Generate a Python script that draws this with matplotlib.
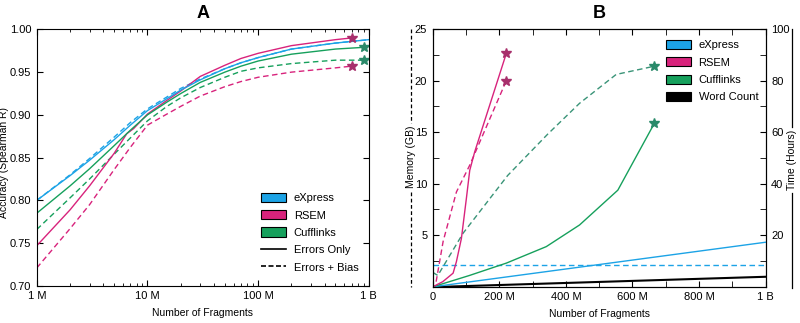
import numpy as np
import matplotlib.pyplot as plt
from matplotlib.patches import Patch
from matplotlib.lines import Line2D
from matplotlib.ticker import FixedLocator, NullFormatter

plt.rcParams['font.family'] = ['Liberation Sans', 'DejaVu Sans']
plt.rcParams['font.size'] = 8

# colours
c_exp = '#1ca3e6'
c_rsem = '#d8237c'
c_cuff = '#16a05c'
c_cuff_mem = '#3a9478'
star_rsem = '#a8306c'
star_cuff = '#2a8a6a'

# ---- panel A: accuracy vs fragments (millions) ----
xa = [1, 2, 3, 5, 7, 10, 15, 20, 30, 50, 70, 100, 200, 500, 1000]
exp_err = [0.800, 0.829, 0.847, 0.871, 0.888, 0.905, 0.919, 0.929, 0.941, 0.954, 0.961, 0.967, 0.977, 0.984, 0.988]
exp_bias = [0.800, 0.830, 0.849, 0.874, 0.891, 0.907, 0.921, 0.931, 0.942, 0.954, 0.961, 0.967, 0.977, 0.984, 0.988]

xa_rsem_err = [1, 2, 3, 5, 6.5, 7.5, 10, 15, 20, 30, 50, 70, 100, 200, 500, 700]
rsem_err = [0.747, 0.789, 0.817, 0.855, 0.878, 0.884, 0.901, 0.917, 0.928, 0.945, 0.958, 0.966, 0.972, 0.981, 0.988, 0.990]
xa_rsem = [1, 2, 3, 5, 7, 10, 15, 20, 30, 50, 70, 100, 200, 500, 700]
rsem_bias = [0.721, 0.767, 0.795, 0.836, 0.862, 0.888, 0.901, 0.910, 0.922, 0.933, 0.939, 0.944, 0.950, 0.955, 0.957]

xa_cuff = [1, 2, 3, 5, 7, 10, 15, 20, 30, 50, 70, 100, 200, 500, 900]
cuff_err = [0.785, 0.817, 0.837, 0.864, 0.882, 0.900, 0.915, 0.925, 0.938, 0.950, 0.957, 0.963, 0.971, 0.977, 0.979]
cuff_bias = [0.766, 0.803, 0.825, 0.854, 0.873, 0.893, 0.910, 0.920, 0.932, 0.944, 0.951, 0.955, 0.960, 0.964, 0.964]

# ---- panel B: memory (GB, dashed) and time (hours, solid) ----
rsem_mem_x = [10, 31, 71, 111, 221]
rsem_mem = [0.5, 4.4, 9.2, 11.8, 20.0]
cuff_mem_x = [0, 15, 91, 225, 345, 441, 551, 666]
cuff_mem = [1.4, 1.1, 5.2, 10.8, 14.8, 17.8, 20.6, 21.4]
exp_mem_x = [0, 1000]
exp_mem = [2.1, 2.1]

rsem_time_x = [0, 30, 61, 71, 86, 101, 111, 126, 221]
rsem_time = [0, 2.0, 5.3, 9.8, 18.8, 34.4, 45.2, 52.4, 90.6]
cuff_time_x = [0, 110, 221, 341, 441, 556, 666]
cuff_time = [0, 4.4, 9.2, 15.6, 24.0, 37.5, 63.5]
exp_time_x = [0, 1000]
exp_time = [0, 17.3]
wc_time_x = [0, 50, 200, 1000]
wc_time = [0, 0.1, 0.7, 3.9]

lw = 1.0
dash = (0, (4, 2.5))
tick_fs = 8

fig = plt.figure(figsize=(8, 3.23), dpi=100)
axA = fig.add_axes([0.046, 0.115, 0.415, 0.794])
axB = fig.add_axes([0.541, 0.112, 0.416, 0.798])

# panel A
axA.plot(xa, exp_bias, color=c_exp, lw=lw, ls=dash)
axA.plot(xa_cuff, cuff_bias, color=c_cuff, lw=lw, ls=dash)
axA.plot(xa_rsem, rsem_bias, color=c_rsem, lw=lw, ls=dash)
axA.plot(xa_rsem_err, rsem_err, color=c_rsem, lw=lw)
axA.plot(xa_cuff, cuff_err, color=c_cuff, lw=lw)
axA.plot(xa, exp_err, color=c_exp, lw=lw)
for xs, ys, c in [(xa_rsem_err, rsem_err, star_rsem), (xa_rsem, rsem_bias, star_rsem),
                  (xa_cuff, cuff_err, star_cuff), (xa_cuff, cuff_bias, star_cuff)]:
    axA.plot(xs[-1], ys[-1], marker='*', ms=7.5, color=c, mec=c, ls='none')

axA.set_xscale('log')
axA.set_xlim(1, 1000)
axA.set_ylim(0.70, 1.00)
axA.set_xticks([1, 10, 100, 1000])
axA.set_xticklabels(['1 M', '10 M', '100 M', '1 B'])
axA.set_yticks(np.arange(0.70, 1.001, 0.05))
axA.set_yticklabels(['0.70', '0.75', '0.80', '0.85', '0.90', '0.95', '1.00'])
axA.xaxis.set_minor_formatter(NullFormatter())
axA.tick_params(which='both', direction='in', top=True, right=True, labelsize=tick_fs)
axA.tick_params(which='major', length=4, pad=4)
axA.tick_params(which='minor', length=2)
axA.set_xlabel('Number of Fragments', fontsize=7.5, labelpad=5)
axA.set_ylabel('Accuracy (Spearman R)', fontsize=7.5)
axA.yaxis.set_label_coords(-0.085, 0.48)
axA.set_title('A', fontsize=13, fontweight='bold', pad=8)

hA = [Patch(fc=c_exp, ec='black', lw=0.8, label='eXpress'),
      Patch(fc=c_rsem, ec='black', lw=0.8, label='RSEM'),
      Patch(fc=c_cuff, ec='black', lw=0.8, label='Cufflinks'),
      Line2D([], [], color='black', lw=1.2, label='Errors Only'),
      Line2D([], [], color='black', lw=1.2, ls=(0, (3, 1.5)), label='Errors + Bias')]
axA.legend(handles=hA, loc='lower left', bbox_to_anchor=(0.675, 0.052), frameon=False,
           borderpad=0, borderaxespad=0, fontsize=8, handlelength=2.25, handleheight=0.9,
           labelspacing=0.62, handletextpad=0.7)

# panel B
axT = axB.twinx()
axB.plot(exp_mem_x, exp_mem, color=c_exp, lw=lw, ls=dash)
axB.plot(cuff_mem_x, cuff_mem, color=c_cuff_mem, lw=lw, ls=dash)
axB.plot(rsem_mem_x, rsem_mem, color=c_rsem, lw=lw, ls=dash)
axB.plot(rsem_mem_x[-1], rsem_mem[-1], marker='*', ms=7.5, color=star_rsem, ls='none')
axB.plot(cuff_mem_x[-1], cuff_mem[-1], marker='*', ms=7.5, color=star_cuff, ls='none')

axT.plot(wc_time_x, wc_time, color='black', lw=1.5)
axT.plot(exp_time_x, exp_time, color=c_exp, lw=lw)
axT.plot(cuff_time_x, cuff_time, color=c_cuff, lw=lw)
axT.plot(rsem_time_x, rsem_time, color=c_rsem, lw=lw)
axT.plot(rsem_time_x[-1], rsem_time[-1], marker='*', ms=7.5, color=star_rsem, ls='none')
axT.plot(cuff_time_x[-1], cuff_time[-1], marker='*', ms=7.5, color=star_cuff, ls='none')

axB.set_xlim(0, 1000)
axB.set_ylim(0, 25)
axT.set_ylim(0, 100)
axB.set_xticks([0, 200, 400, 600, 800, 1000])
axB.set_xticklabels(['0', '200 M', '400 M', '600 M', '800 M', '1 B'])
axB.xaxis.set_minor_locator(FixedLocator([100, 300, 500, 700, 900]))
axB.set_yticks([5, 10, 15, 20, 25])
axB.yaxis.set_minor_locator(FixedLocator([2.5, 7.5, 12.5, 17.5, 22.5]))
axT.set_yticks([20, 40, 60, 80, 100])
axT.yaxis.set_minor_locator(FixedLocator([10, 30, 50, 70, 90]))
axB.tick_params(which='both', direction='in', top=True, right=False, labelsize=tick_fs)
axT.tick_params(which='both', direction='in', labelsize=tick_fs)
for a in (axB, axT):
    a.tick_params(which='major', length=4, pad=4)
    a.tick_params(which='minor', length=4)
axB.set_xlabel('Number of Fragments', fontsize=7.5, labelpad=5)
axB.set_title('B', fontsize=13, fontweight='bold', pad=8)

hB = [Patch(fc=c_exp, ec='black', lw=0.8, label='eXpress'),
      Patch(fc=c_rsem, ec='black', lw=0.8, label='RSEM'),
      Patch(fc=c_cuff, ec='black', lw=0.8, label='Cufflinks'),
      Patch(fc='black', ec='black', lw=0.8, label='Word Count')]
axT.legend(handles=hB, loc='upper left', bbox_to_anchor=(0.70, 0.958), frameon=False,
           borderpad=0, borderaxespad=0, fontsize=8, handlelength=2.25, handleheight=0.9,
           labelspacing=0.62, handletextpad=0.7)

# side labels with line-style keys
H = 323.0
def fy(p):
    return 1 - p / H

xl = 0.514
fig.text(xl, fy(157), 'Memory (GB)', rotation=90, ha='center', va='center', fontsize=7.5)
fig.add_artist(Line2D([xl, xl], [fy(29), fy(123)], color='black', lw=0.9, ls=(0, (3, 2))))
fig.add_artist(Line2D([xl, xl], [fy(192), fy(287)], color='black', lw=0.9, ls=(0, (3, 2))))

xr = 0.99
fig.text(xr, fy(160), 'Time (Hours)', rotation=90, ha='center', va='center', fontsize=7.5)
fig.add_artist(Line2D([xr, xr], [fy(29), fy(127)], color='black', lw=0.9))
fig.add_artist(Line2D([xr, xr], [fy(193), fy(288)], color='black', lw=0.9))

fig.savefig('out.png', dpi=100)
